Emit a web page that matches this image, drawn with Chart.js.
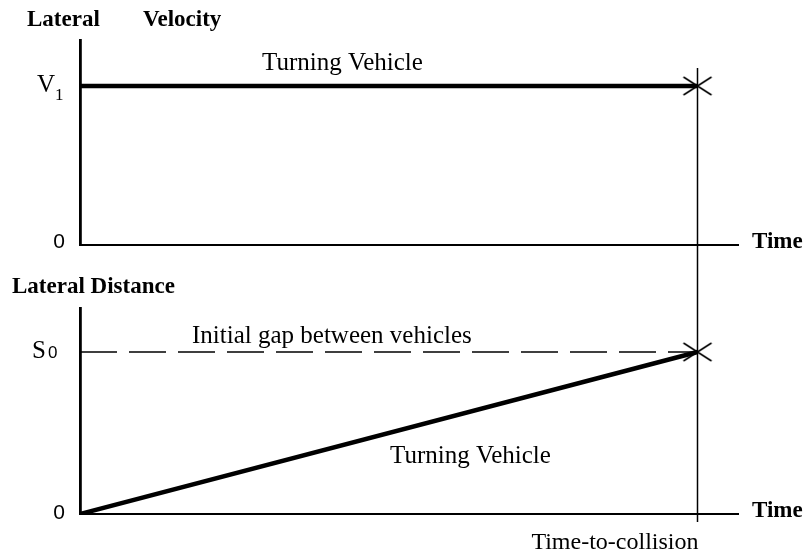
<!DOCTYPE html>
<html><head><meta charset="utf-8">
<script src="https://cdn.jsdelivr.net/npm/chart.js@4/dist/chart.umd.min.js"></script>
<style>
html,body{margin:0;padding:0;background:#fff;width:808px;height:556px;overflow:hidden;position:relative}
canvas{position:absolute;left:0}
#top{top:0}
#bot{top:275px}
</style></head><body>
<canvas id="top" width="808" height="275"></canvas>
<canvas id="bot" width="808" height="281"></canvas>
<script>
// ---- data (normalised units) ----
const timePoints = [0, 1];            // start, time-to-collision
const lateralVelocity = [1, 1];       // V1 (constant)
const lateralDistance = [0, 1];       // 0 -> S0
const initialGap = [1, 1];            // S0 dashed reference
const collisionTime = 1;
const velocityTicks = ['0', 'V', '1'];     // "0", "V" + subscript "1"
const distanceTicks = ['0', 'S', '0'];     // "0", "S" + subscript "0"
const seriesLabels = ['Turning Vehicle', 'Initial gap between vehicles'];
const axisTitles = ['Lateral', 'Velocity', 'Lateral Distance', 'Time', 'Time-to-collision'];

const SERIF = "'Liberation Serif','Times New Roman',serif";
const SANS = "'Liberation Sans',Arial,sans-serif";

function makeCross() {
  const c = document.createElement('canvas');
  c.width = 32; c.height = 24;
  const g = c.getContext('2d');
  g.strokeStyle = '#000'; g.lineWidth = 1.6;
  g.beginPath();
  g.moveTo(2, 3); g.lineTo(30, 21);
  g.moveTo(2, 21); g.lineTo(30, 3);
  g.stroke();
  return c;
}
const crossImg = makeCross();

function pts(xs, ys) { return xs.map((x, i) => ({x: x, y: ys[i]})); }

function baseOptions(xmax, ymax, pad) {
  return {
    responsive: false, animation: false, events: [],
    layout: {padding: pad},
    plugins: {legend: {display: false}, tooltip: {enabled: false}, title: {display: false}},
    scales: {
      x: {type: 'linear', min: 0, max: xmax, ticks: {display: false},
          grid: {display: false, drawTicks: false}, border: {display: true, color: '#000', width: 2}},
      y: {type: 'linear', min: 0, max: ymax, ticks: {display: false},
          grid: {display: false, drawTicks: false}, border: {display: true, color: '#000', width: 2.8}}
    }
  };
}

function txt(ctx, s, x, y, font, align) {
  ctx.font = font; ctx.fillStyle = '#000';
  ctx.textAlign = align || 'left'; ctx.textBaseline = 'alphabetic';
  ctx.fillText(s, x, y);
}

const XMAX = 1.0656;

// ---------- top: lateral velocity ----------
const topPlugin = {
  id: 'topDecor',
  afterDatasetsDraw(chart) {
    const {ctx, chartArea: a, scales: {x, y}} = chart;
    ctx.save();
    const xc = Math.round(x.getPixelForValue(collisionTime)) + 0.5;
    const yv = y.getPixelForValue(lateralVelocity[1]);
    ctx.strokeStyle = '#000'; ctx.lineWidth = 1.5;
    ctx.beginPath(); ctx.moveTo(xc, yv - 18); ctx.lineTo(xc, chart.height); ctx.stroke();
    txt(ctx, axisTitles[0], 27, 26, 'bold 23px ' + SERIF);
    txt(ctx, axisTitles[1], 143, 26, 'bold 23px ' + SERIF);
    txt(ctx, seriesLabels[0], 262, yv - 16, '25px ' + SERIF);
    txt(ctx, velocityTicks[1], a.left - 43, yv + 6, '25px ' + SERIF);
    txt(ctx, velocityTicks[2], a.left - 25, yv + 14, '17px ' + SERIF);
    txt(ctx, velocityTicks[0], a.left - 15, y.getPixelForValue(0) + 3, '21px ' + SANS, 'right');
    txt(ctx, axisTitles[3], a.right + 14, a.bottom + 3, 'bold 23px ' + SERIF);
    ctx.restore();
  }
};

new Chart(document.getElementById('top'), {
  type: 'scatter',
  data: {datasets: [
    {data: pts(timePoints, lateralVelocity), showLine: true, borderColor: '#000', borderWidth: 4.5, pointRadius: 0},
    {data: [{x: collisionTime, y: lateralVelocity[1]}], pointStyle: crossImg, pointRadius: 10}
  ]},
  options: baseOptions(XMAX, 1.2893, {left: 80, right: 70, top: 40, bottom: 30}),
  plugins: [topPlugin]
});

// ---------- bottom: lateral distance ----------
const botPlugin = {
  id: 'botDecor',
  afterDatasetsDraw(chart) {
    const {ctx, chartArea: a, scales: {x, y}} = chart;
    ctx.save();
    const xc = Math.round(x.getPixelForValue(collisionTime)) + 0.5;
    const ys = y.getPixelForValue(initialGap[1]);
    ctx.strokeStyle = '#000'; ctx.lineWidth = 1.5;
    ctx.beginPath(); ctx.moveTo(xc, 0); ctx.lineTo(xc, a.bottom + 8); ctx.stroke();
    txt(ctx, axisTitles[2], 12, 18, 'bold 23px ' + SERIF);
    txt(ctx, distanceTicks[1], a.left - 48, ys + 6, '25px ' + SERIF);
    txt(ctx, distanceTicks[2], a.left - 32, ys + 6, '17px ' + SANS);
    txt(ctx, seriesLabels[1], 192, ys - 9, '25px ' + SERIF);
    txt(ctx, seriesLabels[0], 390, 188, '25px ' + SERIF);
    txt(ctx, distanceTicks[0], a.left - 15, y.getPixelForValue(0) + 5, '21px ' + SANS, 'right');
    txt(ctx, axisTitles[3], a.right + 14, a.bottom + 3, 'bold 23px ' + SERIF);
    txt(ctx, axisTitles[4], xc + 1, a.bottom + 35, '24px ' + SERIF, 'right');
    ctx.restore();
  }
};

new Chart(document.getElementById('bot'), {
  type: 'scatter',
  data: {datasets: [
    {data: pts(timePoints, initialGap), showLine: true, borderColor: '#000', borderWidth: 1.5,
     borderDash: [37, 12], pointRadius: 0},
    {data: pts(timePoints, lateralDistance), showLine: true, borderColor: '#000', borderWidth: 4.5, pointRadius: 0},
    {data: [{x: collisionTime, y: lateralDistance[1]}], pointStyle: crossImg, pointRadius: 10}
  ]},
  options: baseOptions(XMAX, 1.2716, {left: 80, right: 70, top: 33, bottom: 42}),
  plugins: [botPlugin]
});
</script>
</body></html>
